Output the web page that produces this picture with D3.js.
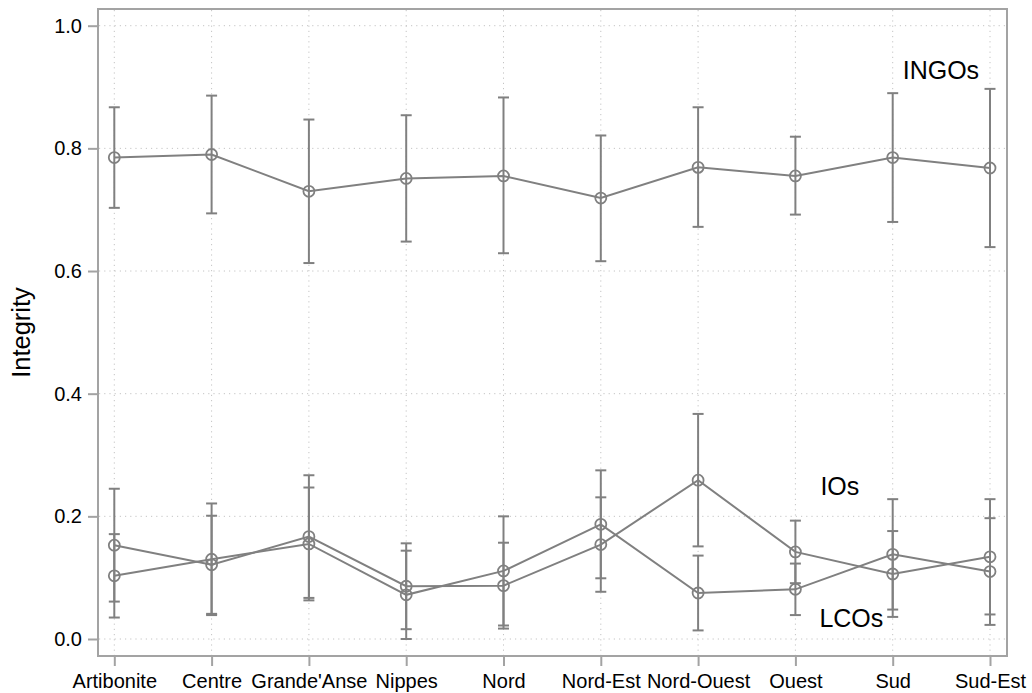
<!DOCTYPE html>
<html>
<head>
<meta charset="utf-8">
<script src="https://cdn.jsdelivr.net/npm/d3@7"></script>
<style>
  html, body { margin: 0; padding: 0; background: #fff; }
  svg { display: block; font-family: "Liberation Sans", Arial, Helvetica, sans-serif; }
</style>
</head>
<body>
<svg id="chart" width="1032" height="693"></svg>
<script>
// Departments of Haiti
const departments = ["Artibonite", "Centre", "Grande'Anse", "Nippes", "Nord",
                     "Nord-Est", "Nord-Ouest", "Ouest", "Sud", "Sud-Est"];

// Mean integrity with 95% confidence bounds, by organisation type
const ingoMean = [0.785, 0.790, 0.730, 0.751, 0.755, 0.719, 0.769, 0.755, 0.785, 0.768];
const ingoLow  = [0.703, 0.694, 0.613, 0.648, 0.629, 0.616, 0.672, 0.692, 0.680, 0.639];
const ingoHigh = [0.867, 0.886, 0.847, 0.854, 0.883, 0.821, 0.867, 0.819, 0.890, 0.897];

const ioMean = [0.153, 0.121, 0.167, 0.086, 0.087, 0.154, 0.259, 0.142, 0.106, 0.134];
const ioLow  = [0.061, 0.041, 0.067, 0.016, 0.017, 0.077, 0.151, 0.091, 0.036, 0.040];
const ioHigh = [0.245, 0.201, 0.267, 0.156, 0.157, 0.231, 0.367, 0.193, 0.176, 0.228];

const lcoMean = [0.103, 0.130, 0.155, 0.072, 0.111, 0.187, 0.075, 0.081, 0.138, 0.110];
const lcoLow  = [0.035, 0.039, 0.063, 0.000, 0.022, 0.099, 0.014, 0.039, 0.048, 0.023];
const lcoHigh = [0.171, 0.221, 0.247, 0.144, 0.200, 0.275, 0.136, 0.123, 0.228, 0.197];

const yTicks = [0.0, 0.2, 0.4, 0.6, 0.8, 1.0];
const yTitle = "Integrity";

const seriesNames = ["INGOs", "IOs", "LCOs"];

const svg = d3.select("#chart");

// plot frame
const frame = { left: 98, right: 1007, top: 9, bottom: 656 };

const x = d3.scalePoint().domain(departments).range([114.3, 990]);
const y = d3.scaleLinear().domain([0, 1]).range([639, 25.7]);

const gray = "#808080";
const frameColor = "#a3a3a3";
const gridColor = "#c4c4c4";

// dotted grid
const grid = svg.append("g");
grid.selectAll("line.h").data(yTicks).join("line")
  .attr("x1", frame.left + 1).attr("x2", frame.right - 1)
  .attr("y1", d => y(d)).attr("y2", d => y(d))
  .attr("stroke", gridColor).attr("stroke-width", 1)
  .attr("stroke-dasharray", "1.2 4");
grid.selectAll("line.v").data(departments).join("line")
  .attr("x1", d => x(d)).attr("x2", d => x(d))
  .attr("y1", frame.top + 1).attr("y2", frame.bottom - 1)
  .attr("stroke", gridColor).attr("stroke-width", 1)
  .attr("stroke-dasharray", "1.2 4");

// axes
const yAxis = d3.axisLeft(y).tickValues(yTicks).tickFormat(d3.format(".1f"))
  .tickSize(10).tickPadding(6);
const gy = svg.append("g").attr("transform", `translate(${frame.left},0)`).call(yAxis);
gy.select(".domain").remove();
gy.selectAll(".tick line").attr("stroke", frameColor).attr("stroke-width", 2);
gy.selectAll(".tick text").attr("fill", "#000").style("font-size", "20px")
  .attr("font-family", "Liberation Sans, Arial, sans-serif");

const xAxis = d3.axisBottom(x).tickSize(10).tickPadding(8);
const gx = svg.append("g").attr("transform", `translate(0,${frame.bottom})`).call(xAxis);
gx.select(".domain").remove();
gx.selectAll(".tick line").attr("stroke", frameColor).attr("stroke-width", 2);
gx.selectAll(".tick text").attr("fill", "#000").style("font-size", "20px")
  .attr("font-family", "Liberation Sans, Arial, sans-serif");

// frame
svg.append("rect")
  .attr("x", frame.left).attr("y", frame.top)
  .attr("width", frame.right - frame.left).attr("height", frame.bottom - frame.top)
  .attr("fill", "none").attr("stroke", frameColor).attr("stroke-width", 2);

// y title
svg.append("text")
  .attr("transform", `translate(30,${(frame.top + frame.bottom) / 2}) rotate(-90)`)
  .attr("text-anchor", "middle")
  .style("font-size", "25.5px")
  .attr("fill", "#000")
  .text(yTitle);

// series
const series = [
  { name: seriesNames[0], mean: ingoMean, low: ingoLow, high: ingoHigh },
  { name: seriesNames[1], mean: ioMean, low: ioLow, high: ioHigh },
  { name: seriesNames[2], mean: lcoMean, low: lcoLow, high: lcoHigh }
];

const line = d3.line().x(d => x(d.dept)).y(d => y(d.v));
const cap = 5.5;

series.forEach(s => {
  const pts = departments.map((dept, i) => ({ dept, v: s.mean[i], lo: s.low[i], hi: s.high[i] }));
  const g = svg.append("g");

  // confidence intervals
  g.selectAll("line.ci").data(pts).join("line")
    .attr("x1", d => x(d.dept)).attr("x2", d => x(d.dept))
    .attr("y1", d => y(d.lo)).attr("y2", d => y(d.hi))
    .attr("stroke", gray).attr("stroke-width", 2);
  g.selectAll("line.capHi").data(pts).join("line")
    .attr("x1", d => x(d.dept) - cap).attr("x2", d => x(d.dept) + cap)
    .attr("y1", d => y(d.hi)).attr("y2", d => y(d.hi))
    .attr("stroke", gray).attr("stroke-width", 2);
  g.selectAll("line.capLo").data(pts).join("line")
    .attr("x1", d => x(d.dept) - cap).attr("x2", d => x(d.dept) + cap)
    .attr("y1", d => y(d.lo)).attr("y2", d => y(d.lo))
    .attr("stroke", gray).attr("stroke-width", 2);

  // connecting line
  g.append("path").datum(pts)
    .attr("d", line)
    .attr("fill", "none").attr("stroke", gray).attr("stroke-width", 2);

  // hollow markers
  g.selectAll("circle").data(pts).join("circle")
    .attr("cx", d => x(d.dept)).attr("cy", d => y(d.v))
    .attr("r", 5.5)
    .attr("fill", "none").attr("stroke", gray).attr("stroke-width", 1.8);
});

// series labels
const labels = [
  { text: seriesNames[0], dept: "Sud", dx: 10, v: 0.913 },
  { text: seriesNames[1], dept: "Ouest", dx: 25, v: 0.235 },
  { text: seriesNames[2], dept: "Ouest", dx: 24, v: 0.0196 }
];
svg.selectAll("text.series").data(labels).join("text")
  .attr("class", "series")
  .attr("x", d => x(d.dept) + d.dx)
  .attr("y", d => y(d.v))
  .style("font-size", "25px")
  .attr("fill", "#000")
  .text(d => d.text);
</script>
</body>
</html>
